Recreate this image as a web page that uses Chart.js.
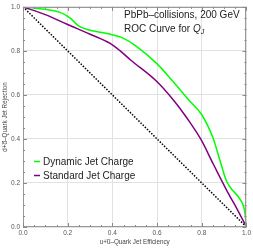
<!DOCTYPE html>
<html>
<head>
<meta charset="utf-8">
<script src="https://cdn.jsdelivr.net/npm/chart.js@4"></script>
<style>
    html, body { margin: 0; padding: 0; background: #fff; }
    #wrap { width: 253px; height: 250px; position: relative; }
</style>
</head>
<body>
<div id="wrap"><canvas id="rocChart"></canvas></div>
<script>
// ROC curves
const dynamicX = [0, 0.076, 0.166, 0.21, 0.247, 0.287, 0.376, 0.448, 0.5, 0.6, 0.672, 0.748, 0.8, 0.85, 0.88, 0.91, 0.932, 0.969, 0.991, 1.0];
const dynamicY = [1, 0.992, 0.975, 0.95, 0.915, 0.897, 0.879, 0.858, 0.826, 0.741, 0.66, 0.57, 0.51, 0.405, 0.307, 0.21, 0.174, 0.129, 0.076, 0];

const standardX = [0, 0.1, 0.2, 0.3, 0.39, 0.435, 0.48, 0.6, 0.672, 0.735, 0.795, 0.852, 0.915, 0.961, 1.0];
const standardY = [1, 0.965, 0.92, 0.876, 0.834, 0.80, 0.76, 0.66, 0.578, 0.493, 0.40, 0.285, 0.16, 0.076, 0];

const randomX = [0, 1];
const randomY = [1, 0];

const tickValues = [0, 0.2, 0.4, 0.6, 0.8, 1.0];

const FONT = '"Liberation Sans", Arial, sans-serif';
const green = 'rgb(0, 255, 0)';
const purple = 'rgb(128, 0, 128)';

const toPoints = (xs, ys) => xs.map((x, i) => ({ x, y: ys[i] }));

// frame, ticks on all four sides, and the free text
const decorations = {
    id: 'decorations',
    afterDraw(chart) {
        const { ctx, chartArea: a, scales } = chart;
        const sx = scales.x;
        const sy = scales.y;

        ctx.save();
        ctx.strokeStyle = '#999';
        ctx.lineWidth = 1;
        ctx.strokeRect(Math.round(a.left) + 0.5, Math.round(a.top) + 0.5,
            Math.round(a.right - a.left) - 1, Math.round(a.bottom - a.top) - 1);

        ctx.strokeStyle = '#888';
        for (let k = 0; k <= 20; k++) {
            const v = k / 20;
            const len = k % 4 === 0 ? 4 : 2;
            const px = Math.round(sx.getPixelForValue(v)) + 0.5;
            const py = Math.round(sy.getPixelForValue(v)) + 0.5;
            ctx.beginPath();
            ctx.moveTo(px, a.bottom); ctx.lineTo(px, a.bottom - len);
            ctx.moveTo(px, a.top); ctx.lineTo(px, a.top + len);
            ctx.moveTo(a.left, py); ctx.lineTo(a.left + len, py);
            ctx.moveTo(a.right, py); ctx.lineTo(a.right - len, py);
            ctx.stroke();
        }

        // axis titles
        ctx.fillStyle = '#444';
        ctx.font = `6.3px ${FONT}`;
        ctx.textAlign = 'center';
        ctx.textBaseline = 'middle';
        ctx.fillText('u+u\u0305\u2013Quark Jet Efficiency', (a.left + a.right) / 2, 242);
        ctx.save();
        ctx.translate(5, (a.top + a.bottom) / 2);
        ctx.rotate(-Math.PI / 2);
        ctx.fillText('d+d\u0305\u2013Quark Jet Rejection', 0, 0);
        ctx.restore();

        // plot label
        ctx.fillStyle = '#222';
        ctx.textAlign = 'left';
        ctx.textBaseline = 'alphabetic';
        ctx.font = `10px ${FONT}`;
        ctx.fillText('PbPb\u2013collisions, 200 GeV', 124, 18);
        const line2 = 'ROC Curve for ';
        ctx.fillText(line2, 124, 32);
        let tx = 124 + ctx.measureText(line2).width;
        ctx.font = `italic 10px ${FONT}`;
        ctx.fillText('Q', tx, 32);
        tx += ctx.measureText('Q').width;
        ctx.font = `italic 7px ${FONT}`;
        ctx.fillText('J', tx, 34);

        // legend
        ctx.font = `10px ${FONT}`;
        ctx.lineWidth = 1.5;
        [[green, 'Dynamic Jet Charge', 165], [purple, 'Standard Jet Charge', 179]].forEach(([c, label, y]) => {
            ctx.strokeStyle = c;
            ctx.beginPath();
            ctx.moveTo(34, y - 3.5);
            ctx.lineTo(40, y - 3.5);
            ctx.stroke();
            ctx.fillText(label, 43, y);
        });
        ctx.restore();
    }
};

const tickFont = { family: FONT, size: 6.5 };

new Chart(document.getElementById('rocChart'), {
    type: 'line',
    data: {
        datasets: [
            {
                data: toPoints(randomX, randomY),
                borderColor: '#000',
                borderWidth: 1.5,
                borderDash: [1.5, 1.5],
                pointRadius: 0,
            },
            {
                data: toPoints(standardX, standardY),
                borderColor: purple,
                borderWidth: 1.5,
                pointRadius: 0,
                cubicInterpolationMode: 'monotone',
            },
            {
                data: toPoints(dynamicX, dynamicY),
                borderColor: green,
                borderWidth: 1.5,
                pointRadius: 0,
                cubicInterpolationMode: 'monotone',
            },
        ],
    },
    options: {
        responsive: true,
        maintainAspectRatio: false,
        animation: false,
        layout: { padding: { left: 0, right: 6, top: 4, bottom: 0 } },
        plugins: { legend: { display: false }, tooltip: { enabled: false } },
        scales: {
            x: {
                type: 'linear',
                min: 0,
                max: 1,
                afterBuildTicks: s => { s.ticks = tickValues.map(value => ({ value })); },
                afterFit: s => { s.height = 23; },
                ticks: { callback: v => v.toFixed(1), font: tickFont, color: '#555', padding: 2, maxRotation: 0, autoSkip: false },
                grid: { color: '#e2e2e2', drawTicks: false },
                border: { display: false },
            },
            y: {
                type: 'linear',
                min: 0,
                max: 1,
                afterBuildTicks: s => { s.ticks = tickValues.map(value => ({ value })); },
                afterFit: s => { s.width = 23; },
                ticks: { callback: v => v.toFixed(1), font: tickFont, color: '#555', padding: 3, autoSkip: false },
                grid: { color: '#e2e2e2', drawTicks: false },
                border: { display: false },
            },
        },
    },
    plugins: [decorations],
});
</script>
</body>
</html>
